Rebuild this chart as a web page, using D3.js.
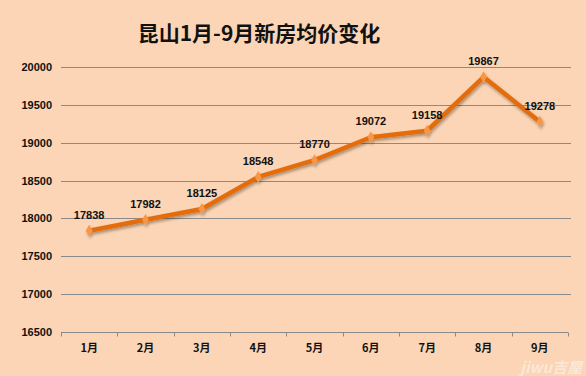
<!DOCTYPE html>
<html><head><meta charset="utf-8">
<script src="https://cdn.jsdelivr.net/npm/d3@7"></script>
<style>
html,body{margin:0;padding:0;background:#FBD5B5;}
svg{display:block;}
</style></head>
<body>
<svg id="c" width="586" height="376"></svg>
<script>
const title = "昆山1月-9月新房均价变化";
const categories = ["1月","2月","3月","4月","5月","6月","7月","8月","9月"];
const values = [17838,17982,18125,18548,18770,19072,19158,19867,19278];
const yTicks = [16500,17000,17500,18000,18500,19000,19500,20000];

const svg = d3.select("#c");
const W = 586, H = 376;
const m = {left:61, right:18, top:67, bottom:44};
const x = d3.scaleBand().domain(categories).range([m.left, W - m.right]);
const y = d3.scaleLinear().domain([16500, 20000]).range([H - m.bottom, m.top]);

svg.append("rect").attr("width", W).attr("height", H).attr("fill", "#FBD5B5");

svg.append("text").attr("x", 259).attr("y", 41).attr("text-anchor", "middle")
  .attr("font-family", "'Noto Sans CJK SC', sans-serif").attr("font-weight", "bold")
  .attr("font-size", 21).attr("fill", "#111").text(title);

// gridlines
svg.append("g").selectAll("line").data(yTicks.filter(d => d > 16500)).join("line")
  .attr("x1", m.left).attr("x2", W - m.right + 3)
  .attr("y1", d => Math.round(y(d)) + 0.5).attr("y2", d => Math.round(y(d)) + 0.5)
  .attr("stroke", "#8a8a8a").attr("stroke-width", 1);

// y axis labels
const yAxis = d3.axisLeft(y).tickValues(yTicks).tickFormat(d3.format("d")).tickSize(0).tickPadding(9);
const gy = svg.append("g").attr("transform", `translate(${m.left},0)`).call(yAxis);
gy.select(".domain").remove();
gy.selectAll("text").attr("font-family", "'Liberation Sans', Arial, sans-serif")
  .attr("font-weight", "bold").attr("font-size", 11).attr("fill", "#111");

// x axis
const xAxis = d3.axisBottom(x).tickSize(0).tickPadding(12);
const gx = svg.append("g").attr("transform", `translate(0,${Math.round(y(16500)) + 0.5})`).call(xAxis);
gx.select(".domain").attr("stroke", "#8a8a8a").attr("d", `M${m.left},0H${W - m.right}`);
gx.selectAll("text").attr("font-family", "'Noto Sans CJK SC', sans-serif")
  .attr("font-weight", "bold").attr("font-size", 11).attr("fill", "#111");
const bounds = categories.map(c => x(c)).concat([x(categories[categories.length - 1]) + x.bandwidth()]);
gx.append("g").selectAll("line").data(bounds).join("line")
  .attr("x1", d => Math.round(d) + 0.5).attr("x2", d => Math.round(d) + 0.5)
  .attr("y1", 0).attr("y2", 4).attr("stroke", "#8a8a8a");

// shadow filter
const defs = svg.append("defs");
const f = defs.append("filter").attr("id", "sh").attr("x", "-10%").attr("y", "-10%").attr("width", "120%").attr("height", "130%");
f.append("feGaussianBlur").attr("in", "SourceAlpha").attr("stdDeviation", 1.5).attr("result", "b");
f.append("feOffset").attr("in", "b").attr("dx", 1).attr("dy", 2).attr("result", "o");
f.append("feComponentTransfer").attr("in", "o").attr("result", "o2")
  .append("feFuncA").attr("type", "linear").attr("slope", 0.35);
const mg = f.append("feMerge");
mg.append("feMergeNode").attr("in", "o2");
mg.append("feMergeNode").attr("in", "SourceGraphic");

const cx = c => x(c) + x.bandwidth() / 2;
const line = d3.line().x((d, i) => cx(categories[i])).y(d => y(d));
const g = svg.append("g").attr("filter", "url(#sh)");
g.append("path").datum(values).attr("d", line).attr("fill", "none")
  .attr("stroke", "#E36C0A").attr("stroke-width", 4.5).attr("stroke-linejoin", "round");
g.selectAll("path.m").data(values).join("path").attr("class", "m")
  .attr("d", d3.symbol(d3.symbolDiamond, 40))
  .attr("transform", (d, i) => `translate(${cx(categories[i])},${y(d)})`)
  .attr("fill", "#F79646");

// data labels
svg.append("g").selectAll("text").data(values).join("text")
  .attr("x", (d, i) => cx(categories[i])).attr("y", d => y(d) - 12)
  .attr("text-anchor", "middle").attr("font-family", "'Liberation Sans', Arial, sans-serif")
  .attr("font-weight", "bold").attr("font-size", 11).attr("fill", "#111").text(d => d);

// watermark
svg.append("text").attr("x", 582).attr("y", 373).attr("text-anchor", "end")
  .attr("font-family", "'Noto Sans CJK SC', sans-serif").attr("font-weight", "bold").attr("font-style", "italic")
  .attr("font-size", 15).attr("fill", "#ffffff").attr("opacity", 0.45).text("jiwu吉屋");
</script>
</body></html>
